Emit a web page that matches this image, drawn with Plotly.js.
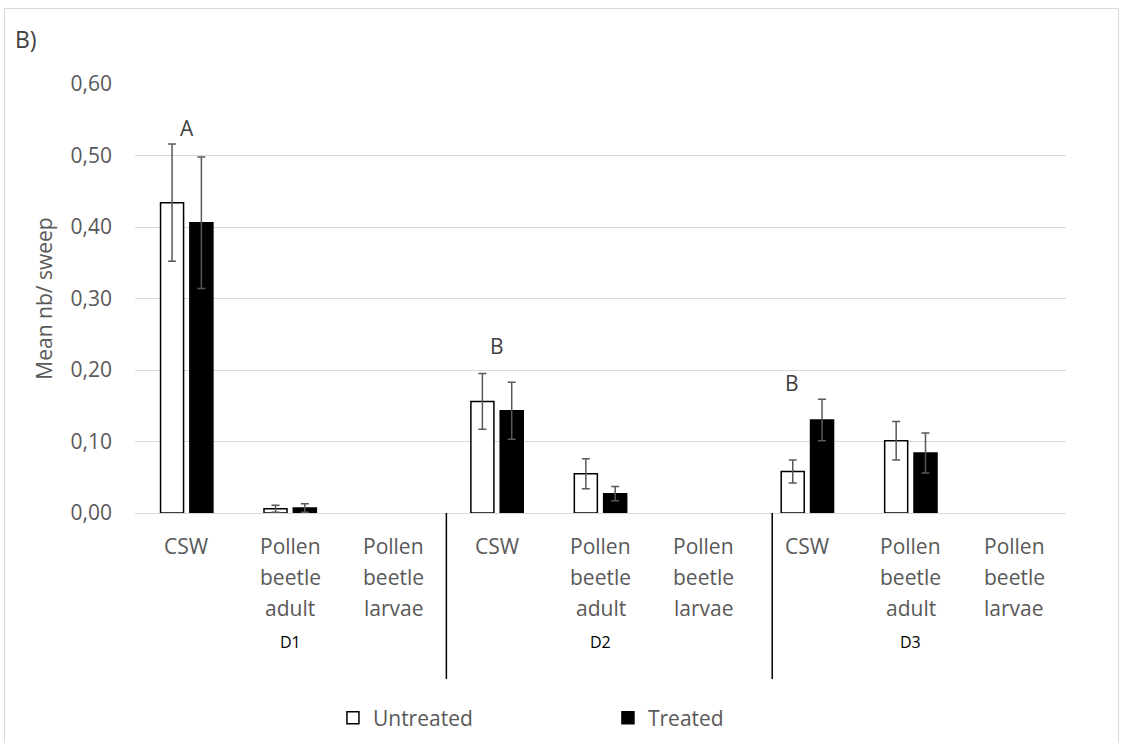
<!DOCTYPE html>
<html>
<head>
<meta charset="utf-8">
<script src="https://cdn.plot.ly/plotly-3.0.1.min.js"></script>
<style>
  html, body { margin: 0; padding: 0; background: #ffffff; overflow: hidden; }
  #frame { position: absolute; left: 4px; top: 8px; width: 1115px; height: 760px; border: 1px solid #d9d9d9; box-sizing: border-box; pointer-events: none; z-index: 5; }
  #chart { position: absolute; left: 0; top: 0; width: 1123px; height: 743px; }
</style>
</head>
<body>
<div id="chart"></div>
<div id="frame"></div>
<script>
// ---- data ----
const groups = ['D1', 'D2', 'D3'];
const insects = ['CSW', 'Pollen<br>beetle<br>adult', 'Pollen<br>beetle<br>larvae'];
const untreated    = [0.434, 0.006, 0, 0.156, 0.055, 0, 0.058, 0.101, 0];
const untreatedErr = [0.082, 0.005, 0, 0.039, 0.021, 0, 0.016, 0.027, 0];
const treated      = [0.406, 0.007, 0, 0.143, 0.027, 0, 0.130, 0.084, 0];
const treatedErr   = [0.092, 0.006, 0, 0.040, 0.010, 0, 0.029, 0.028, 0];
const letters      = ['A', 'B', 'B'];
const letterY      = [0.538, 0.234, 0.182];
const yTicks = [0, 0.1, 0.2, 0.3, 0.4, 0.5, 0.6];

// category keys
const keys = [];
const labels = [];
groups.forEach(g => insects.forEach(c => { keys.push(g + '|' + c); labels.push(c); }));
const nz = v => (v === 0 ? null : v);

const FONT = 'Open Sans, sans-serif';
const GRAY = '#595959';
const PLOT_H = 429;

const traces = [
  {
    type: 'bar', name: 'Untreated', x: keys, y: untreated.map(nz),
    marker: { color: '#ffffff', line: { color: '#000000', width: 1.5 } },
    error_y: { type: 'data', array: untreatedErr, visible: true, color: '#595959', thickness: 1.5, width: 4 },
    hoverinfo: 'y'
  },
  {
    type: 'bar', name: 'Treated', x: keys, y: treated.map(nz),
    marker: { color: '#000000', line: { color: '#000000', width: 1.5 } },
    error_y: { type: 'data', array: treatedErr, visible: true, color: '#595959', thickness: 1.5, width: 4 },
    hoverinfo: 'y'
  }
];

const annotations = [];
// category labels, one annotation per line (Excel-like line spacing)
keys.forEach((k, i) => {
  labels[i].split('<br>').forEach((line, j) => {
    annotations.push({
      x: k, xref: 'x', yref: 'paper', y: -(33 + 31 * j) / PLOT_H,
      text: line, showarrow: false, yanchor: 'middle',
      font: { family: FONT, size: 21, color: GRAY }
    });
  });
});
// significance letters above the CSW groups
letters.forEach((t, i) => {
  annotations.push({
    x: keys[i * insects.length], y: letterY[i], xref: 'x', yref: 'y',
    text: t, showarrow: false, xshift: i === 2 ? -15 : 0,
    font: { family: FONT, size: 21, color: '#404040' }
  });
});
// group labels
groups.forEach((g, i) => {
  annotations.push({
    x: keys[i * insects.length + 1], y: -129 / PLOT_H, xref: 'x', yref: 'paper',
    text: g, showarrow: false, yanchor: 'middle',
    font: { family: FONT, size: 16, color: '#000000' }
  });
});
// panel label
annotations.push({
  x: -0.131, y: 1.105, xref: 'paper', yref: 'paper', xanchor: 'left', yanchor: 'middle',
  text: 'B)', showarrow: false, font: { family: FONT, size: 23, color: '#404040' }
});

const shapes = [2.51, 5.66].map(xv => ({
  type: 'line', xref: 'x', yref: 'paper', x0: xv, x1: xv, y0: 0, y1: -166 / PLOT_H,
  line: { color: '#000000', width: 1.5 }
}));

const layout = {
  width: 1123, height: 743,
  margin: { l: 135, r: 57, t: 84, b: 230, autoexpand: false },
  paper_bgcolor: '#ffffff', plot_bgcolor: '#ffffff',
  separators: ', ',
  font: { family: FONT, size: 21, color: GRAY },
  barmode: 'group', bargap: 0.433, bargroupgap: 0.215,
  showlegend: true,
  legend: {
    orientation: 'h', x: 0.508, xanchor: 'center', y: -205 / PLOT_H, yanchor: 'middle',
    font: { family: FONT, size: 21, color: GRAY }, entrywidth: 230, entrywidthmode: 'pixels',
    traceorder: 'normal'
  },
  xaxis: {
    type: 'category', tickvals: keys, ticktext: labels, showticklabels: false,
    showgrid: false, zeroline: false, showline: true, linecolor: '#d9d9d9', linewidth: 1,
    ticks: '', fixedrange: true, automargin: false
  },
  yaxis: {
    range: [0, 0.6], tickvals: yTicks, tickformat: '.2f',
    showgrid: true, gridcolor: '#d9d9d9', gridwidth: 1, zeroline: false, showline: false,
    ticks: '', ticklabelstandoff: 22, automargin: false,
    tickfont: { family: FONT, size: 21, color: GRAY },
    title: { text: 'Mean nb/ sweep', font: { family: FONT, size: 21, color: GRAY }, standoff: 12 },
    fixedrange: true
  },
  annotations: annotations,
  shapes: shapes
};

Plotly.newPlot('chart', traces, layout, { displayModeBar: false, staticPlot: true });
</script>
</body>
</html>
